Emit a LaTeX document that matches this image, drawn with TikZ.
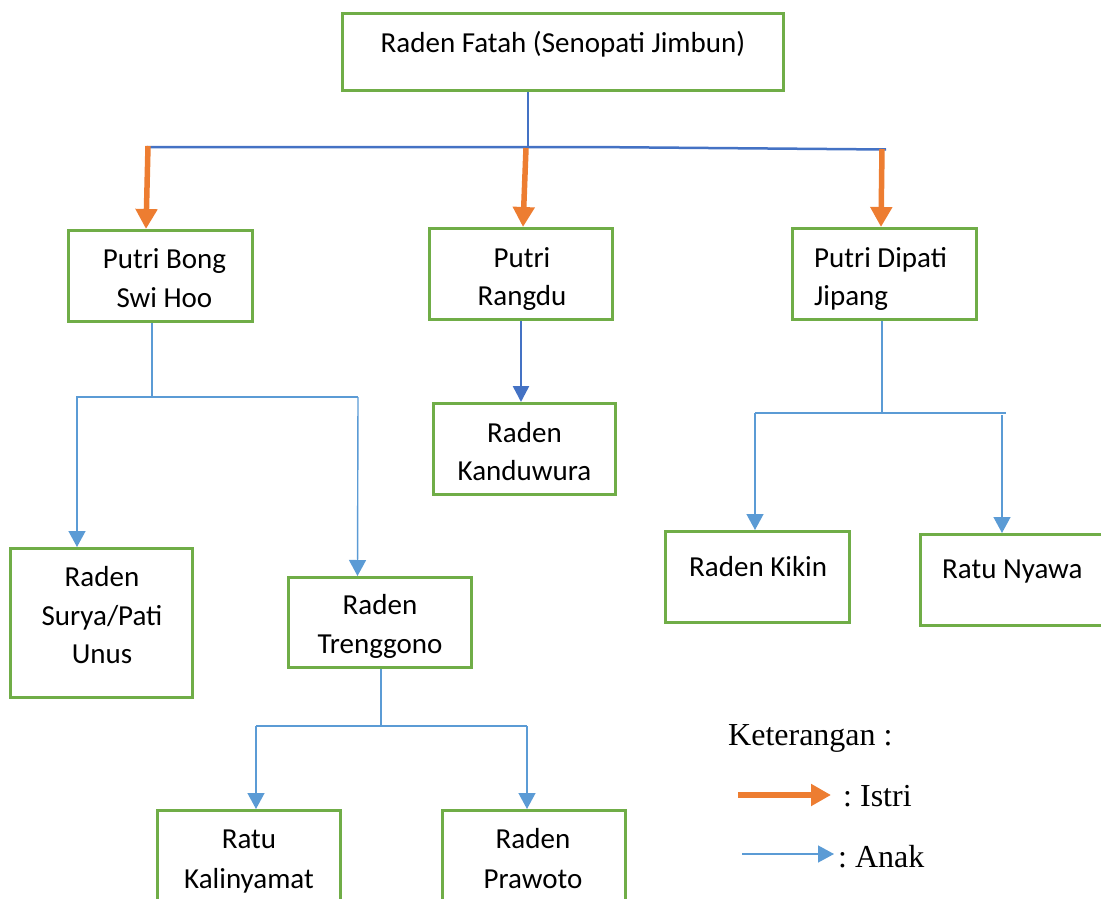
\documentclass[tikz,border=0pt]{standalone}
\usepackage{fontspec}
\setmainfont{Carlito}
\newfontfamily\legendfont{Liberation Serif}
\usetikzlibrary{arrows.meta}
\definecolor{boxgreen}{HTML}{70AD47}
\definecolor{istrior}{HTML}{ED7D31}
\definecolor{darkblu}{HTML}{4472C4}
\definecolor{lightblu}{HTML}{5B9BD5}
\tikzset{
  famBox/.style={draw=boxgreen, line width=3pt, fill=white, inner sep=0pt, rectangle},
  famText/.style={inner sep=0pt, font=\fontsize{29}{38}\selectfont, text=black},
  legText/.style={inner sep=0pt, font=\legendfont\fontsize{32}{38}\selectfont, text=black, anchor=base west},
  istriArrow/.style={draw=istrior, line width=5.5pt, -{Triangle[length=20pt,width=21pt]}},
  anakArrow/.style={draw=lightblu, line width=1.4pt, -{Triangle[length=16pt,width=17pt]}},
  anakLine/.style={draw=lightblu, line width=1.4pt},
  rootLine/.style={draw=darkblu, line width=2.5pt},
  kanduArrow/.style={draw=darkblu, line width=2.5pt, -{Triangle[length=16pt,width=16pt]}}
}
\begin{document}
\begin{tikzpicture}[x=1pt,y=-1pt]
\useasboundingbox (0,0) rectangle (1101,899);
% boxes
\node[famBox, minimum width=441pt, minimum height=77pt] (fatah) at (563,52) {};
\node[famBox, minimum width=184pt, minimum height=91pt] (bong) at (160.5,276) {};
\node[famBox, minimum width=183pt, minimum height=91pt] (rangdu) at (521,274) {};
\node[famBox, minimum width=184pt, minimum height=91pt] (dipati) at (884.5,274) {};
\node[famBox, minimum width=182pt, minimum height=91pt] (kandu) at (524.5,449) {};
\node[famBox, minimum width=182pt, minimum height=149pt] (surya) at (101.5,623) {};
\node[famBox, minimum width=183pt, minimum height=90pt] (treng) at (380,622.5) {};
\node[famBox, minimum width=184pt, minimum height=91pt] (kikin) at (757.5,577) {};
\node[famBox, minimum width=183pt, minimum height=91pt] (nyawa) at (1012,580) {};
\node[famBox, minimum width=183pt, minimum height=91pt] (kaliny) at (249,856) {};
\node[famBox, minimum width=183pt, minimum height=91pt] (prawoto) at (534,856) {};
% texts
\node[famText, anchor=base] (tfatah) at (563,53) {Raden Fatah (Senopati Jimbun)};
\node[famText, anchor=base] (tbong1) at (164.5,268) {Putri Bong};
\node[famText, anchor=base] (tbong2) at (164.5,307) {Swi Hoo};
\node[famText, anchor=base] (trang1) at (522,267) {Putri};
\node[famText, anchor=base] (trang2) at (522,305) {Rangdu};
\node[famText, anchor=base west] (tdip1) at (814,267) {Putri Dipati};
\node[famText, anchor=base west] (tdip2) at (814,305) {Jipang};
\node[famText, anchor=base] (tkan1) at (524.5,442) {Raden};
\node[famText, anchor=base] (tkan2) at (524.5,480) {Kanduwura};
\node[famText, anchor=base] (tsur1) at (102,586) {Raden};
\node[famText, anchor=base] (tsur2) at (102,625) {Surya/Pati};
\node[famText, anchor=base] (tsur3) at (102,663) {Unus};
\node[famText, anchor=base] (ttre1) at (380,614) {Raden};
\node[famText, anchor=base] (ttre2) at (380,653) {Trenggono};
\node[famText, anchor=base west] (tkik) at (689,576) {Raden Kikin};
\node[famText, anchor=base west] (tnya) at (942,578) {Ratu Nyawa};
\node[famText, anchor=base] (tkal1) at (249,848) {Ratu};
\node[famText, anchor=base] (tkal2) at (249,888) {Kalinyamat};
\node[famText, anchor=base] (tpra1) at (533,848) {Raden};
\node[famText, anchor=base] (tpra2) at (533,888) {Prawoto};
% root connectors
\coordinate (rj) at (528,147);
\coordinate (rl) at (147,147);
\coordinate (rk) at (590,147);
\coordinate (rr) at (886,149.5);
\draw[rootLine] (528,0 |- fatah.south) -- (rj);
\draw[rootLine] (rl) -- (rk) -- (rr);
\draw[istriArrow] (148,146) -- (146,0 |- bong.north);
\draw[istriArrow] (526,148) -- (523,0 |- rangdu.north);
\draw[istriArrow] (882,149) -- (881,0 |- dipati.north);
% Rangdu -> Kanduwura
\draw[kanduArrow] (521,0 |- rangdu.south) -- (521,0 |- kandu.north);
% Bong children
\coordinate (bj) at (152,397);
\coordinate (bl) at (76,397);
\coordinate (br) at (358,397);
\draw[anakLine] (152,0 |- bong.south) -- (bj);
\draw[anakLine] (bl) -- (br);
\draw[anakArrow] (77,397) -- (77,0 |- surya.north);
\draw[anakArrow] (br) -- (357.5,0 |- treng.north);
% Dipati children
\coordinate (dj) at (882,413);
\coordinate (dl) at (755,413);
\coordinate (dr) at (1006,413);
\draw[anakLine] (882,0 |- dipati.south) -- (dj);
\draw[anakLine] (dl) -- (dr);
\draw[anakArrow] (dl) -- (755,0 |- kikin.north);
\draw[anakArrow] (1002,415) -- (1002,0 |- nyawa.north);
% Trenggono children
\coordinate (tj) at (381,726);
\coordinate (tl) at (256,726);
\coordinate (tr) at (527,726);
\draw[anakLine] (381,0 |- treng.south) -- (tj);
\draw[anakLine] (tl) -- (tr);
\draw[anakArrow] (tl) -- (256,0 |- kaliny.north);
\draw[anakArrow] (tr) -- (527,0 |- prawoto.north);
% legend
\node[legText] (ket) at (728,745) {Keterangan :};
\coordinate (li1) at (738,795);
\coordinate (li2) at (831,795);
\draw[istriArrow] (li1) -- (li2);
\node[legText] (istri) at (843,806) {:\kern8pt Istri};
\coordinate (la1) at (742,854);
\coordinate (la2) at (834,854);
\draw[anakArrow] (la1) -- (la2);
\node[legText] (anak) at (838,867) {:\kern8pt Anak};
\end{tikzpicture}
\end{document}
